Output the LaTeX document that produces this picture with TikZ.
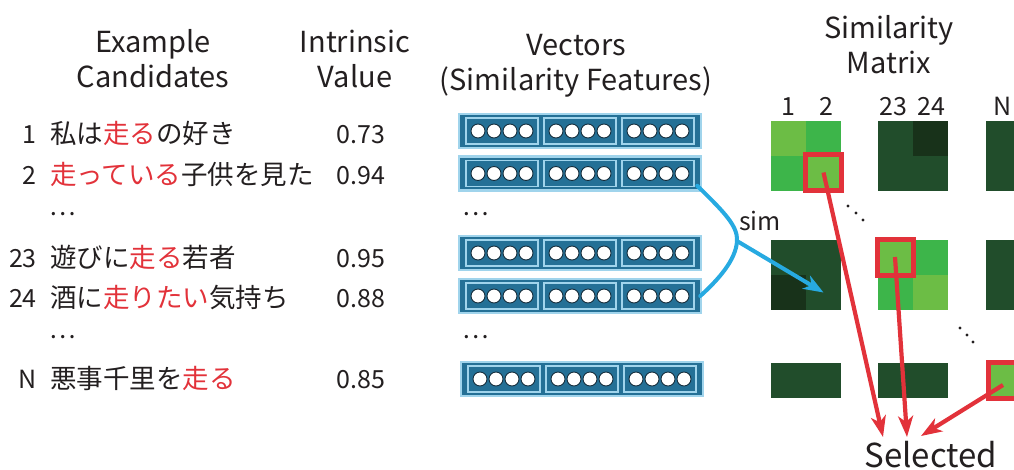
\documentclass[tikz,border=0pt]{standalone}
\usepackage{fontspec}
\setmainfont{Noto Sans CJK JP}
\usetikzlibrary{arrows.meta,calc}

\definecolor{txt}{RGB}{35,31,32}
\definecolor{vecdark}{RGB}{36,112,150}
\definecolor{veclight}{RGB}{160,212,236}
\definecolor{ringdark}{RGB}{20,45,60}
\definecolor{glight}{RGB}{108,189,69}
\definecolor{gmid}{RGB}{61,181,74}
\definecolor{gdark}{RGB}{33,77,43}
\definecolor{gdeep}{RGB}{24,50,26}
\definecolor{selred}{RGB}{226,50,58}
\definecolor{simblue}{RGB}{39,170,225}

\tikzset{
  head/.style={font=\fontsize{29}{35}\selectfont, text=txt, anchor=base, inner sep=0pt},
  body/.style={font=\fontsize{25}{30}\selectfont, text=txt, anchor=base, inner sep=0pt},
  jp/.style={font=\fontsize{26.5}{30}\selectfont, text=txt, anchor=base west, inner sep=0pt},
  vecbox/.style={draw=veclight, line width=2.5pt, fill=vecdark,
    minimum width=242pt, minimum height=34pt, inner sep=0pt},
  vecseg/.style={draw=veclight, line width=1.6pt,
    minimum width=72pt, minimum height=26pt, inner sep=0pt},
  vecdot/.style={circle, draw=ringdark, fill=white, line width=0.9pt,
    minimum size=14pt, inner sep=0pt},
  cell/.style={fill=#1, minimum size=35pt, inner sep=0pt, outer sep=0pt},
  pick/.style={draw=selred, line width=5pt, minimum size=36pt, inner sep=0pt},
  selarrow/.style={draw=selred, line width=4.2pt,
    -{Stealth[length=21pt,width=15pt,inset=6pt]}},
  simarrow/.style={draw=simblue, line width=4pt,
    -{Stealth[length=20pt,width=15pt,inset=6pt]}},
  brace/.style={draw=simblue, line width=4pt, line cap=round},
}

% one feature vector: outer bar, three segments, four units each
\newcommand\featvec[2]{%
  \node[vecbox] (#1) at #2 {};
  \foreach \s in {1,2,3} {
    \node[vecseg] (#1-s\s) at ($(#1.center)+({(\s-2)*78},0)$) {};
    \foreach \c in {1,2,3,4}
      \node[vecdot] (#1-s\s-u\c) at ($(#1-s\s.center)+({(\c-2.5)*16},0)$) {};
  }%
}

\begin{document}
\begin{tikzpicture}[x=1pt,y=-1pt]
\useasboundingbox (0,0) rectangle (1014,469);

% column headings
\node[head] (h1a) at (153,52) {Example};
\node[head] (h1b) at (153,87) {Candidates};
\node[head] (h2a) at (355,52) {Intrinsic};
\node[head] (h2b) at (355,87) {Value};
\node[head] (h3a) at (576,55) {Vectors};
\node[head] (h3b) at (576,90) {(Similarity Features)};
\node[head] (h4a) at (889,38) {Similarity};
\node[head] (h4b) at (889,73) {Matrix};

% candidate sentences
\node[body, anchor=base east] (n1) at (37,143) {1};
\node[jp] (c1) at (50,143) {私は{\color{selred}走る}の好き};
\node[body, anchor=base east] (n2) at (37,184) {2};
\node[jp] (c2) at (50,184) {{\color{selred}走っている}子供を見た};
\node[body, anchor=center] (cd1) at (63,214) {…};
\node[body, anchor=base east] (n23) at (37,267) {23};
\node[jp] (c23) at (50,267) {遊びに{\color{selred}走る}若者};
\node[body, anchor=base east] (n24) at (37,307) {24};
\node[jp] (c24) at (50,307) {酒に{\color{selred}走りたい}気持ち};
\node[body, anchor=center] (cd2) at (63,337) {…};
\node[body, anchor=base east] (nN) at (37,388) {N};
\node[jp] (cN) at (50,388) {悪事千里を{\color{selred}走る}};

% intrinsic values
\node[body] (val1) at (361,143) {0.73};
\node[body] (val2) at (361,184) {0.94};
\node[body] (val23) at (361,267) {0.95};
\node[body] (val24) at (361,307) {0.88};
\node[body] (valN) at (361,388) {0.85};

% feature vectors
\featvec{v1}{(580,131)}
\featvec{v2}{(580,173.5)}
\featvec{v23}{(580,253)}
\featvec{v24}{(580,296)}
\featvec{vN}{(582,379)}
\node[body, anchor=center] (vd1) at (476,214) {…};
\node[body, anchor=center] (vd2) at (476,337) {…};

% similarity matrix: column labels
\node[body] (l1) at (788,115) {1};
\node[body] (l2) at (826,115) {2};
\node[body] (l23) at (893,115) {23};
\node[body] (l24) at (931,115) {24};
\node[body] (lN) at (1003,115) {N};

% block row 1
\node[cell=glight] (m11-a) at (788.5,138.5) {};
\node[cell=gmid]   (m11-b) at (823.5,138.5) {};
\node[cell=gmid]   (m11-c) at (788.5,173.5) {};
\node[cell=glight] (m11-d) at (823.5,173.5) {};
\node[cell=gdark]  (m12-a) at (895.5,138.5) {};
\node[cell=gdeep]  (m12-b) at (930.5,138.5) {};
\node[cell=gdark]  (m12-c) at (895.5,173.5) {};
\node[cell=gdark]  (m12-d) at (930.5,173.5) {};
\node[cell=gdark, minimum width=28pt, minimum height=70pt, anchor=north west] (m13) at (986,121) {};

% block row 2
\node[cell=gdark]  (m21-a) at (788.5,257.5) {};
\node[cell=gdark]  (m21-b) at (823.5,257.5) {};
\node[cell=gdeep]  (m21-c) at (788.5,292.5) {};
\node[cell=gdark]  (m21-d) at (823.5,292.5) {};
\node[cell=glight] (m22-a) at (895.5,257.5) {};
\node[cell=gmid]   (m22-b) at (930.5,257.5) {};
\node[cell=gmid]   (m22-c) at (895.5,292.5) {};
\node[cell=glight] (m22-d) at (930.5,292.5) {};
\node[cell=gdark, minimum width=28pt, minimum height=70pt, anchor=north west] (m23) at (986,240) {};

% block row 3
\node[cell=gdark, minimum width=70pt] (m31) at (806,380.5) {};
\node[cell=gdark, minimum width=70pt] (m32) at (913,380.5) {};
\node[cell=glight, minimum width=28pt, anchor=west] (m33) at (986,380.5) {};

% diagonal ellipses
\foreach \p in {(848,206),(856,213),(863,220),(960,328),(967,335),(973,342)}
  \fill[txt] \p circle (1.6pt);

% selected entries
\node[pick] (sel1) at (823.5,172.5) {};
\node[pick] (sel2) at (895,257) {};
\node[pick, anchor=west] (sel3) at (985.5,380) {};

\node[font=\fontsize{33}{40}\selectfont, text=txt, anchor=base, inner sep=0pt] (selected) at (931,467) {Selected};
\coordinate (t1) at (883,437);
\coordinate (t2) at (907,437);
\coordinate (t3) at (921,436);

\draw[selarrow] (sel1.center) -- (t1);
\draw[selarrow] (sel2.center) -- (t2);
\draw[selarrow] (1003,385) -- (t3);

% similarity brace and arrow
\coordinate (bs) at ([shift={(-5,-6)}]v2.south east);
\coordinate (be) at ([xshift=-2pt]v24.east);
\coordinate (bt) at (737,241);
\draw[brace] (bs) .. controls (724,212) and (738,226) .. (bt)
             .. controls (736,260) and (718,280) .. (be);
\draw[simarrow] (bt) -- (m21-d.center);
\node[body] (simlbl) at (760,230) {sim};
\end{tikzpicture}
\end{document}
